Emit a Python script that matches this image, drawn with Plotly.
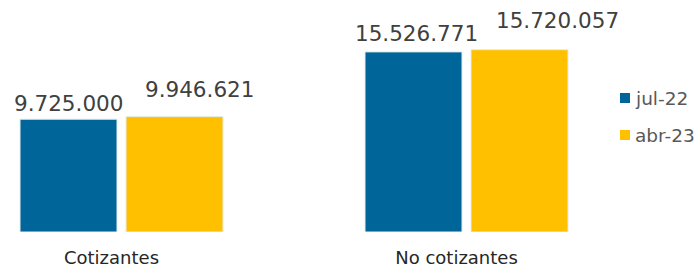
import plotly.graph_objects as go

categories = ["Cotizantes", "No cotizantes"]
series_names = ["jul-22", "abr-23"]
jul22 = [9725000, 15526771]
abr23 = [9946621, 15720057]

colors = ["#006699", "#FFC000"]
FONT = "Verdana, DejaVu Sans, sans-serif"

# layout geometry (px)
W, H = 697, 267
ML, MR, MT, MB = 0, 100, 0, 35
plot_w = W - ML - MR
cat_px = 345.0
first_center_px = 121.5
slot = 106.0 / cat_px  # bar slot width in data units

x_min = -first_center_px / cat_px
x_max = x_min + plot_w / cat_px

fig = go.Figure()
idx = list(range(len(categories)))
for name, vals, col in zip(series_names, [jul22, abr23], colors):
    fig.add_trace(go.Bar(
        x=idx, y=vals, name=name, offsetgroup=name,
        marker=dict(color=col, line=dict(color="#e6ecf0", width=1)),
        showlegend=False, hoverinfo="skip",
    ))

def fmt(v):
    return f"{v:,}".replace(",", ".")

# label pixel nudges per series / category
label_xshift = [[0, 3], [25, 38]]
label_yshift = [[1, 4], [13, 15]]
annotations = []
for s, vals in enumerate([jul22, abr23]):
    off = (s - 0.5) * slot
    for i, v in enumerate(vals):
        annotations.append(dict(
            x=i + off, y=v, xref="x", yref="y", text=fmt(v),
            showarrow=False, yanchor="bottom", xanchor="center",
            xshift=label_xshift[s][i], yshift=label_yshift[s][i],
            font=dict(family=FONT, size=21.5, color="#404040"),
        ))

# custom legend
leg_y = [98, 135]
shapes = []
for k, (name, col) in enumerate(zip(series_names, colors)):
    cy = leg_y[k]
    shapes.append(dict(type="rect", xref="paper", yref="paper",
                       x0=(620 - ML) / plot_w, x1=(630 - ML) / plot_w,
                       y0=(H - MB - (cy + 5)) / (H - MT - MB),
                       y1=(H - MB - (cy - 5)) / (H - MT - MB),
                       fillcolor=col, line=dict(width=0)))
    annotations.append(dict(
        x=(633 - ML) / plot_w, y=(H - MB - cy) / (H - MT - MB),
        xref="paper", yref="paper", text=name, showarrow=False,
        xanchor="left", yanchor="middle",
        font=dict(family=FONT, size=18.5, color="#595959"),
    ))

fig.update_layout(
    width=W, height=H,
    margin=dict(l=ML, r=MR, t=MT, b=MB),
    paper_bgcolor="white", plot_bgcolor="white",
    barmode="group", bargap=1 - 2 * slot, bargroupgap=9.0 / 106.0,
    showlegend=False,
    annotations=annotations, shapes=shapes,
    font=dict(family=FONT),
)
fig.update_xaxes(
    range=[x_min, x_max], tickmode="array", tickvals=idx, ticktext=categories,
    showgrid=False, zeroline=False, showline=False, ticks="",
    tickfont=dict(family=FONT, size=18, color="#262626"),
    ticklabelshift=-10, ticklabelstandoff=13,
)
fig.update_yaxes(
    range=[0, 20000000], visible=False, showgrid=False, zeroline=False,
)

fig.write_html(
    "out.html",
    config={"displayModeBar": False},
    post_script="document.body.style.margin='0';document.body.style.overflow='hidden';",
)
